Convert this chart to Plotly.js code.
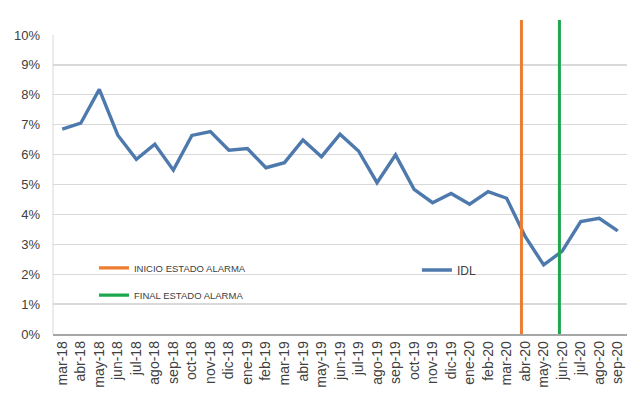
<!DOCTYPE html>
<html>
<head>
<meta charset="utf-8">
<script src="https://cdn.plot.ly/plotly-3.0.1.min.js"></script>
<style>html,body{margin:0;padding:0;background:#fff}#chart{width:643px;height:397px}</style>
</head>
<body>
<div id="chart"></div>
<script>
const months = ["mar-18","abr-18","may-18","jun-18","jul-18","ago-18","sep-18","oct-18","nov-18","dic-18",
  "ene-19","feb-19","mar-19","abr-19","may-19","jun-19","jul-19","ago-19","sep-19","oct-19","nov-19","dic-19",
  "ene-20","feb-20","mar-20","abr-20","may-20","jun-20","jul-20","ago-20","sep-20"];
const idl = [0.0685,0.0705,0.0818,0.0665,0.0584,0.0635,0.0548,0.0664,0.0677,0.0615,
  0.0620,0.0556,0.0573,0.0649,0.0593,0.0668,0.0612,0.0506,0.0599,0.0484,0.0439,0.0470,
  0.0434,0.0476,0.0454,0.0326,0.0231,0.0277,0.0376,0.0387,0.0345];
const eventNames = ["INICIO ESTADO ALARMA","FINAL ESTADO ALARMA"];
const eventPos = [24.8, 26.85];
const eventColors = ["#ed7d31","#1fa74f"];
const yTicks = [0,0.01,0.02,0.03,0.04,0.05,0.06,0.07,0.08,0.09,0.10];

const idx = months.map((m,i)=>i);
const traces = [
  {x: idx, y: idl, type:'scatter', mode:'lines', name:'IDL',
   line:{color:'#4e79ad', width:3.4}, legend:'legend3', hoverinfo:'skip'},
  {x:[null], y:[null], type:'scatter', mode:'lines', name:eventNames[0],
   line:{color:eventColors[0], width:3.4}, legend:'legend'},
  {x:[null], y:[null], type:'scatter', mode:'lines', name:eventNames[1],
   line:{color:eventColors[1], width:3.4}, legend:'legend2'}
];
const shapes = eventPos.map((p,i)=>({type:'line', xref:'x', yref:'paper', x0:p, x1:p, y0:0, y1:1.05,
  line:{color:eventColors[i], width:3}}));
shapes.push({type:'line', xref:'paper', yref:'y', x0:0, x1:0, y0:0, y1:0.10, line:{color:'#d9d9d9', width:1}, layer:'below'});

const legFont = {family:'Liberation Sans, Arial, sans-serif', size:9.5, color:'#404040'};
const layout = {
  width:643, height:397,
  margin:{l:53, r:16, t:35, b:63},
  paper_bgcolor:'#fff', plot_bgcolor:'#fff',
  font:{family:'Liberation Sans, Arial, sans-serif', color:'#404040'},
  xaxis:{range:[-0.5,30.5], tickmode:'array', tickvals:idx, ticktext:months, tickangle:-90,
    showgrid:false, zeroline:false, showline:true, linecolor:'#a6a6a6', linewidth:1.5,
    ticks:'', tickfont:{size:14, color:'#404040'}, fixedrange:true},
  yaxis:{range:[0,0.10], tickvals:yTicks, tickformat:'.0%', showgrid:true, gridcolor:'#d9d9d9', gridwidth:1.3,
    zeroline:false, showline:false, ticks:'', ticklabelstandoff:12,
    tickfont:{size:13, color:'#404040'}, fixedrange:true},
  shapes:shapes,
  showlegend:true,
  legend:{x:0.0714, y:0.221, xanchor:'left', yanchor:'middle', bgcolor:'rgba(0,0,0,0)', font:legFont},
  legend2:{x:0.0714, y:0.130, xanchor:'left', yanchor:'middle', bgcolor:'rgba(0,0,0,0)', font:legFont},
  legend3:{x:0.634, y:0.214, xanchor:'left', yanchor:'middle', bgcolor:'rgba(0,0,0,0)',
    font:{family:'Liberation Sans, Arial, sans-serif', size:12, color:'#404040'}}
};
Plotly.newPlot('chart', traces, layout, {displayModeBar:false, staticPlot:true});
</script>
</body>
</html>
